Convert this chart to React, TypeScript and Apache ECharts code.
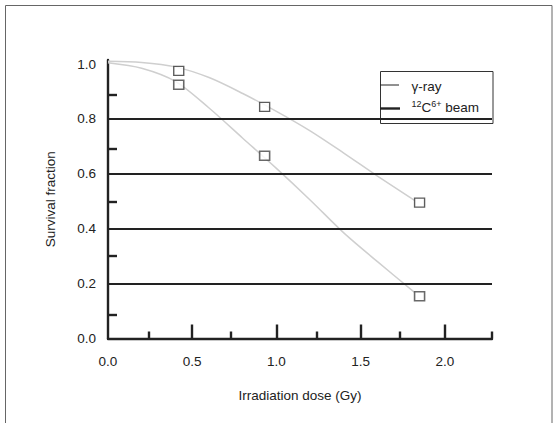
import React, { useEffect, useRef } from "react";
import * as echarts from "echarts";

// Measured survival fractions (squares)
const DOSES = [0.42, 0.93, 1.85];
const GAMMA_SF = [0.975, 0.844, 0.495];
const CARBON_SF = [0.925, 0.666, 0.154];

// Fitted curves
const FIT_X = [0, 0.2, 0.4, 0.6, 0.8, 1.0, 1.2, 1.4, 1.6, 1.82];
const GAMMA_FIT_Y = [1.01, 1.006, 0.99, 0.951, 0.893, 0.828, 0.757, 0.676, 0.592, 0.503];
const CARBON_FIT_Y = [1.005, 0.985, 0.937, 0.84, 0.73, 0.62, 0.505, 0.385, 0.28, 0.168];

// Axis ticks / labels
const X_LABELS = [0, 0.5, 1.0, 1.5, 2.0];
const X_MAJOR_TICKS = [0.5, 1.0, 1.5, 2.0];
const X_MINOR_TICKS = [0.24, 0.73, 1.24, 1.73, 2.28];
const Y_LABELS = [0, 0.2, 0.4, 0.6, 0.8, 1.0];
const Y_MINOR_TICKS = [0.085, 0.3, 0.5, 0.69, 0.89];
const Y_GRID_LINES = [0.2, 0.4, 0.6, 0.8];

const X_MAX = 2.28;
const Y_MAX = 1.015;

const FONT = "Liberation Sans, Arial, sans-serif";
const INK = "#222";
const FS = 13.5;

export default function App() {
  const ref = useRef<HTMLDivElement>(null);

  useEffect(() => {
    if (!ref.current) return;
    const chart = echarts.init(ref.current, null, { renderer: "svg" });

    const zip = (xs: number[], ys: number[]) => xs.map((x, i) => [x, ys[i]]);

    const option: any = {
      animation: false,
      backgroundColor: "#fff",
      textStyle: { fontFamily: FONT, color: INK },
      grid: { left: 108, right: 66, top: 60, bottom: 84.5, containLabel: false },
      xAxis: [
        {
          type: "value",
          min: 0,
          max: X_MAX,
          name: "Irradiation dose (Gy)",
          nameLocation: "middle",
          nameGap: 50,
          nameTextStyle: { fontFamily: FONT, fontSize: FS, color: INK },
          axisLine: { show: true, onZero: false, lineStyle: { color: INK, width: 2.4 } },
          axisTick: {
            show: true,
            inside: true,
            length: 14,
            customValues: X_MAJOR_TICKS,
            lineStyle: { color: INK, width: 2.4 },
          },
          axisLabel: {
            show: true,
            margin: 16,
            customValues: X_LABELS,
            fontFamily: FONT,
            fontSize: FS,
            color: INK,
            formatter: (v: number) => v.toFixed(1),
          },
          splitLine: { show: false },
        },
        {
          type: "value",
          gridIndex: 0,
          position: "bottom",
          min: 0,
          max: X_MAX,
          axisLine: { show: false, onZero: false },
          axisTick: {
            show: true,
            inside: true,
            length: 7,
            customValues: X_MINOR_TICKS,
            lineStyle: { color: INK, width: 2.4 },
          },
          axisLabel: { show: false },
          splitLine: { show: false },
        },
      ],
      yAxis: {
        type: "value",
        min: 0,
        max: Y_MAX,
        name: "Survival fraction",
        nameLocation: "middle",
        nameGap: 51,
        nameTextStyle: { fontFamily: FONT, fontSize: FS, color: INK },
        axisLine: { show: true, onZero: false, lineStyle: { color: INK, width: 2.4 } },
        axisTick: {
          show: true,
          inside: true,
          length: 9,
          customValues: Y_MINOR_TICKS,
          lineStyle: { color: INK, width: 2.4 },
        },
        axisLabel: {
          show: true,
          margin: 12,
          customValues: Y_LABELS,
          fontFamily: FONT,
          fontSize: FS,
          color: INK,
          formatter: (v: number) => v.toFixed(1),
        },
        splitLine: { show: false },
      },
      series: [
        {
          name: "γ-ray fit",
          type: "line",
          xAxisIndex: 0,
          data: zip(FIT_X, GAMMA_FIT_Y),
          showSymbol: false,
          symbol: "none",
          smooth: 0.3,
          lineStyle: { color: "#cfcfcf", width: 1.5 },
          silent: true,
          z: 2,
          markLine: {
            silent: true,
            symbol: ["none", "none"],
            label: { show: false },
            lineStyle: { color: INK, width: 2, type: "solid" },
            emphasis: { disabled: true },
            data: Y_GRID_LINES.map((v) => ({ yAxis: v })),
          },
        },
        {
          name: "carbon fit",
          type: "line",
          xAxisIndex: 0,
          data: zip(FIT_X, CARBON_FIT_Y),
          showSymbol: false,
          symbol: "none",
          smooth: 0.3,
          lineStyle: { color: "#cfcfcf", width: 1.5 },
          silent: true,
          z: 2,
        },
        {
          name: "γ-ray",
          type: "scatter",
          xAxisIndex: 0,
          data: zip(DOSES, GAMMA_SF),
          symbol: "rect",
          symbolSize: [10, 9],
          itemStyle: { color: "#fff", borderColor: "#333", borderWidth: 1.3 },
          z: 6,
        },
        {
          name: "12C6+ beam",
          type: "scatter",
          xAxisIndex: 0,
          data: zip(DOSES, CARBON_SF),
          symbol: "rect",
          symbolSize: [10, 9],
          itemStyle: { color: "#fff", borderColor: "#444", borderWidth: 1.5 },
          z: 6,
        },
      ],
      graphic: [
        {
          type: "rect",
          z: 0,
          silent: true,
          shape: { x: 5.5, y: 5.5, width: 546.5, height: 440 },
          style: { fill: "none", stroke: "#666", lineWidth: 1 },
        },
        {
          type: "group",
          z: 100,
          silent: true,
          children: [
            {
              type: "rect",
              shape: { x: 380.5, y: 71.5, width: 112.5, height: 52 },
              style: { fill: "#fff", stroke: "#333", lineWidth: 1 },
            },
            {
              type: "line",
              shape: { x1: 380, y1: 85, x2: 399, y2: 85 },
              style: { stroke: INK, lineWidth: 1 },
            },
            {
              type: "line",
              shape: { x1: 380, y1: 108.5, x2: 400, y2: 108.5 },
              style: { stroke: INK, lineWidth: 2.4 },
            },
            {
              type: "text",
              x: 411.5,
              y: 86,
              style: {
                text: "γ-ray",
                fontFamily: FONT,
                fontSize: FS,
                fill: INK,
                verticalAlign: "middle",
                align: "left",
              },
            },
            {
              type: "text",
              x: 411.5,
              y: 107,
              style: {
                text: "{sup|12}{n|C}{sup|6+}{n| beam}",
                fontFamily: FONT,
                fill: INK,
                verticalAlign: "middle",
                align: "left",
                rich: {
                  sup: { fontSize: 9, verticalAlign: "top", lineHeight: 15, fontFamily: FONT, fill: INK },
                  n: { fontSize: FS, verticalAlign: "bottom", lineHeight: 15, fontFamily: FONT, fill: INK },
                },
              },
            },
          ],
        },
      ],
    };

    chart.setOption(option);
    return () => chart.dispose();
  }, []);

  return (
    <div
      ref={ref}
      style={{ position: "fixed", left: 0, top: 0, width: 558, height: 423, background: "#fff" }}
    />
  );
}
